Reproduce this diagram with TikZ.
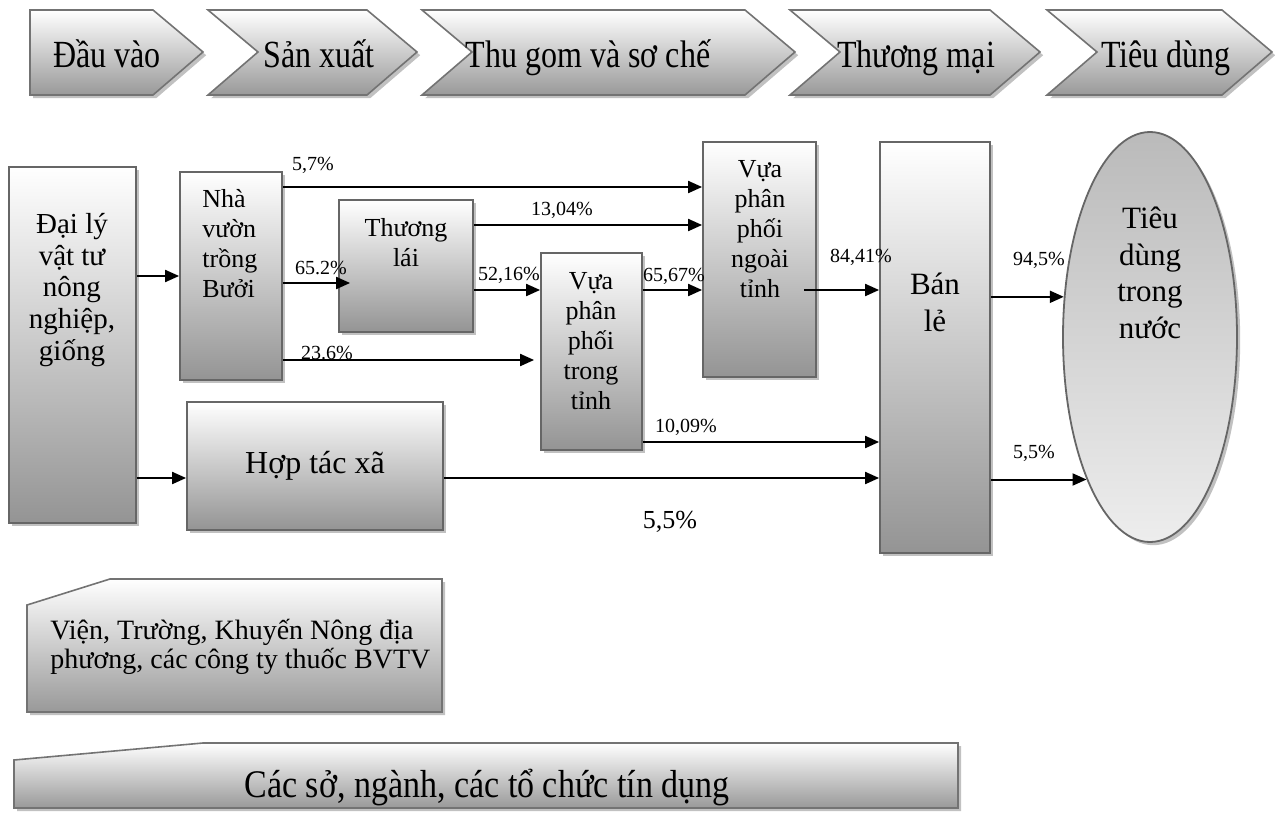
\documentclass[tikz,border=0pt]{standalone}
\usepackage{fontspec}
\usepackage{graphicx}
\setmainfont{Liberation Serif}
\usetikzlibrary{arrows.meta,shapes.geometric,shadows}

\begin{document}
\begin{tikzpicture}[
    x=.5pt,y=-.5pt,
    sh/.style={drop shadow={shadow xshift=1.6pt,shadow yshift=-1.6pt,fill=black!35,opacity=.7}},
    bx/.style={rectangle,draw=black!60,line width=.9pt,top color=white,bottom color=black!42,sh,inner sep=0pt},
    chev/.style={draw=black!55,line width=.8pt,top color=white,bottom color=black!40,sh},
    ct/.style={anchor=base,inner sep=0pt,font=\fontsize{16}{19}\selectfont},
    t/.style={align=center,inner sep=0pt,font=\fontsize{13}{15}\selectfont},
    p/.style={inner sep=0pt,font=\fontsize{10}{12}\selectfont},
    e/.style={-{Triangle[length=7pt,width=6pt]},line width=1pt,black}
  ]
  \useasboundingbox (0,0) rectangle (1275,819);
  \path[chev] (30,10) -- (153,10) -- (203,52) -- (153,95) -- (30,95) -- cycle;
  \path[chev] (208,10) -- (367,10) -- (417,52) -- (367,95) -- (208,95) -- (258,52) -- cycle;
  \path[chev] (422,10) -- (745,10) -- (795,52) -- (745,95) -- (422,95) -- (472,52) -- cycle;
  \path[chev] (790,10) -- (990,10) -- (1040,52) -- (990,95) -- (790,95) -- (840,52) -- cycle;
  \path[chev] (1047,10) -- (1222,10) -- (1272,52) -- (1222,95) -- (1047,95) -- (1097,52) -- cycle;
  \node[ct] (c1) at (107,68) {\scalebox{1}[1.2]{Đầu vào}};
  \node[ct] (c2) at (319,68) {\scalebox{1}[1.2]{Sản xuất}};
  \node[ct] (c3) at (588,68) {\scalebox{1}[1.2]{Thu gom và sơ chế}};
  \node[ct] (c4) at (916,68) {\scalebox{1}[1.2]{Thương mại}};
  \node[ct] (c5) at (1166,68) {\scalebox{1}[1.2]{Tiêu dùng}};

  \node[bx,minimum width=63.5pt,minimum height=178pt] (dai) at (72.5,345) {};
  \node[bx,minimum width=51pt,minimum height=104pt] (nha) at (231,276) {};
  \node[bx,minimum width=67pt,minimum height=66pt] (thuong) at (406,266) {};
  \node[bx,minimum width=128pt,minimum height=64pt,font=\fontsize{16}{19}\selectfont] (htx) at (315,466) {Hợp tác xã};
  \node[bx,minimum width=50.5pt,minimum height=98.5pt] (vtrong) at (591.5,351.5) {};
  \node[bx,minimum width=56.5pt,minimum height=117.5pt] (vngoai) at (759.5,259.5) {};
  \node[bx,minimum width=55pt,minimum height=205.5pt] (banle) at (935,347.5) {};
  \node[ellipse,draw=black!60,line width=.9pt,top color=black!27,bottom color=black!7,sh,minimum width=87pt,minimum height=205pt,inner sep=0pt] (tieudung) at (1150,337) {};

  \node[t,font=\fontsize{14.5}{15.8}\selectfont] (daitxt) at (72,290) {Đại lý\\vật tư\\nông\\nghiệp,\\giống};
  \node[t,align=left,anchor=west] (nhatxt) at (202,244) {Nhà\\vườn\\trồng\\Bưởi};
  \node[t] (thuongtxt) at (406,243) {Thương\\lái};
  \node[t] (vtrongtxt) at (591,341) {Vựa\\phân\\phối\\trong\\tỉnh};
  \node[t] (vngoaitxt) at (760,229) {Vựa\\phân\\phối\\ngoài\\tỉnh};
  \node[t,font=\fontsize{15.5}{18.5}\selectfont] (banletxt) at (935,302) {Bán\\lẻ};
  \node[t,font=\fontsize{15.5}{18.3}\selectfont] (tdtxt) at (1150,273) {Tiêu\\dùng\\trong\\nước};

  \draw[e] (dai.east |- nha.west) -- (nha.west);
  \draw[e] (dai.east |- 0,478) -- (htx.west |- 0,478);
  \draw[e] (nha.east |- 0,187) -- (vngoai.west |- 0,187);
  \draw[e] (nha.east |- 0,283) -- ([xshift=6pt]thuong.west |- 0,283);
  \draw[e] (nha.east |- 0,360) -- ([xshift=-3pt]vtrong.west |- 0,360);
  \draw[e] (thuong.east |- 0,225) -- (vngoai.west |- 0,225);
  \draw[e] (thuong.east |- 0,290) -- (vtrong.west |- 0,290);
  \draw[e] (vtrong.east |- 0,290) -- (vngoai.west |- 0,290);
  \draw[e] ([xshift=-6.5pt]vngoai.east |- 0,290) -- (banle.west |- 0,290);
  \draw[e] (vtrong.east |- 0,442) -- (banle.west |- 0,442);
  \draw[e] (htx.east |- 0,478) -- (banle.west |- 0,478);
  \draw[e] (banle.east |- tieudung.155) -- (tieudung.155);
  \draw[e] (banle.east |- tieudung.246) -- (tieudung.246);

  \node[p] (l57) at (313,165) {5,7\%};
  \node[p,anchor=base] (l652) at (321,274) {65.2\%};
  \node[p,anchor=base] (l236) at (327,359) {23.6\%};
  \node[p] (l1304) at (562,210) {13,04\%};
  \node[p] (l5216) at (509,275) {52,16\%};
  \node[p] (l6567) at (674,276) {65,67\%};
  \node[p] (l8441) at (861,257) {84,41\%};
  \node[p] (l1009) at (686,427) {10,09\%};
  \node[p] (l945) at (1039,260) {94,5\%};
  \node[p] (l55a) at (1034,453) {5,5\%};
  \node[inner sep=0pt,font=\fontsize{13}{15}\selectfont] (l55b) at (670,522) {5,5\%};

  \path[chev] (27,605) -- (110,579) -- (442,579) -- (442,712) -- (27,712) -- cycle;
  \node[t,align=left,anchor=base west,font=\fontsize{14}{12.5}\selectfont] (vientxt) at (50,668) {Viện, Trường, Khuyến Nông địa\\phương, các công ty thuốc BVTV};
  \path[chev] (14,760) -- (203,743) -- (958,743) -- (958,808) -- (14,808) -- cycle;
  \node[ct,font=\fontsize{17}{20}\selectfont] (cqtxt) at (487,797) {\scalebox{1}[1.15]{Các sở, ngành, các tổ chức tín dụng}};
\end{tikzpicture}
\end{document}
